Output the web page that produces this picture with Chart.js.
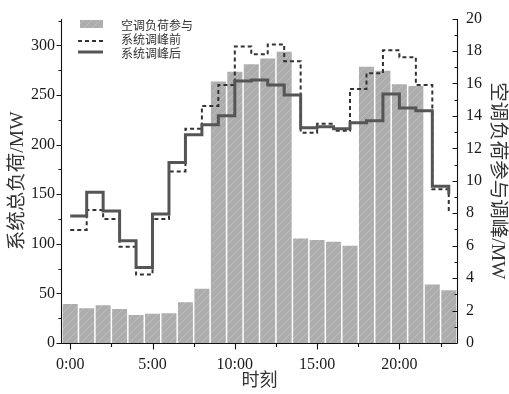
<!DOCTYPE html>
<html>
<head>
<meta charset="utf-8">
<script src="https://cdn.jsdelivr.net/npm/chart.js@4.4.0/dist/chart.umd.min.js"></script>
<style>
  html, body { margin: 0; padding: 0; background: #fff; }
  #wrap { width: 509px; height: 394px; position: relative; }
</style>
</head>
<body>
<div id="wrap"><canvas id="c" width="509" height="394"></canvas></div>
<script>
// Hour of day (each step of the load curves covers one hour)
const hours = [0, 1, 2, 3, 4, 5, 6, 7, 8, 9, 10, 11, 12, 13, 14, 15, 16, 17, 18, 19, 20, 21, 22, 23];

// Air-conditioning load taking part in peak shaving, MW (right axis)
const acLoad = [2.41, 2.14, 2.33, 2.10, 1.73, 1.80, 1.84, 2.51, 3.35, 16.12, 16.73, 17.18,
                17.54, 17.95, 6.45, 6.35, 6.25, 6.00, 17.03, 16.79, 15.95, 15.85, 3.60, 3.25];

// Total system load before peak shaving, MW (left axis)
const loadBefore = [114, 134, 125, 97, 69, 125, 173, 216, 239, 260, 299, 291,
                    301, 284, 212, 221, 214, 256, 272, 295, 288, 260, 155, 132];

// Total system load after peak shaving, MW (left axis)
const loadAfter = [128, 152, 133, 103, 76, 130, 182, 210, 220, 229, 264, 265,
                   260, 250, 217, 218, 216, 222, 224, 251, 237, 234, 158, 150];

// Axis ticks
const xTickValues = [0, 5, 10, 15, 20];
const xTickLabels = ['0:00', '5:00', '10:00', '15:00', '20:00'];
const xMinorTicks = [2.5, 7.5, 12.5, 17.5, 22.5];
const leftTicks = [0, 50, 100, 150, 200, 250, 300];
const leftMinorTicks = [25, 75, 125, 175, 225, 275, 325];
const rightTicks = [0, 2, 4, 6, 8, 10, 12, 14, 16, 18, 20];
const rightMinorTicks = [1, 3, 5, 7, 9, 11, 13, 15, 17, 19];

const serif = "'Liberation Serif', 'Times New Roman', serif";
const cjk = "'Liberation Serif', 'Noto Sans CJK SC', sans-serif";

// Grey fill with light diagonal hatching for the bars
function makeHatch(ctx) {
  const c = document.createElement('canvas');
  c.width = 8; c.height = 8;
  const g = c.getContext('2d');
  g.fillStyle = '#adadad';
  g.fillRect(0, 0, 8, 8);
  g.strokeStyle = '#bdbdbd';
  g.lineWidth = 1;
  g.beginPath();
  g.moveTo(0, 8); g.lineTo(8, 0);
  g.moveTo(-1, 1); g.lineTo(1, -1);
  g.moveTo(7, 9); g.lineTo(9, 7);
  g.stroke();
  return ctx.createPattern(c, 'repeat');
}

const canvas = document.getElementById('c');
const ctx = canvas.getContext('2d');
const hatch = makeHatch(ctx);

const pts = (vals) => hours.map((h, i) => ({ x: h, y: vals[i] }));

// Axis lines and tick marks (major / minor), placed through the chart scales
const axisFrame = {
  id: 'axisFrame',
  afterDraw(chart) {
    const { ctx, chartArea: a, scales } = chart;
    const x = scales.x, yL = scales.yL, yR = scales.yR;
    ctx.save();
    ctx.strokeStyle = '#111';
    ctx.lineWidth = 1.1;
    ctx.beginPath();
    const L = Math.round(a.left) - 0.5, R = Math.round(a.right) + 0.5, B = Math.round(a.bottom) + 0.5, T = Math.round(a.top);
    ctx.moveTo(L, T); ctx.lineTo(L, B);
    ctx.moveTo(R, T); ctx.lineTo(R, B);
    ctx.moveTo(L, B); ctx.lineTo(R, B);
    const hTick = (v, len) => { const px = Math.round(x.getPixelForValue(v)) + 0.5; ctx.moveTo(px, B); ctx.lineTo(px, B + len); };
    const lTick = (v, len) => { const py = Math.round(yL.getPixelForValue(v)) + 0.5; ctx.moveTo(L, py); ctx.lineTo(L - len, py); };
    const rTick = (v, len) => { const py = Math.round(yR.getPixelForValue(v)) + 0.5; ctx.moveTo(R, py); ctx.lineTo(R - len, py); };
    xTickValues.forEach(v => hTick(v, 6));
    xMinorTicks.forEach(v => hTick(v, 3.5));
    leftTicks.forEach(v => lTick(v, 5));
    leftMinorTicks.forEach(v => lTick(v, 3));
    rightTicks.forEach(v => rTick(v, 5));
    rightMinorTicks.forEach(v => rTick(v, 3));
    ctx.stroke();
    ctx.restore();
  }
};

// Legend box in the upper-left corner of the plot, styled from the datasets
const cornerLegend = {
  id: 'cornerLegend',
  afterDraw(chart) {
    const { ctx } = chart;
    const ds = chart.data.datasets;
    const bar = ds.find(d => d.type === 'bar');
    const before = ds.find(d => d.label === '系统调峰前');
    const after = ds.find(d => d.label === '系统调峰后');
    ctx.save();
    ctx.font = "12px 'Noto Sans CJK SC', sans-serif";
    ctx.textBaseline = 'middle';
    ctx.textAlign = 'left';
    // bar swatch
    ctx.fillStyle = bar.backgroundColor;
    ctx.fillRect(80, 20, 23, 8);
    ctx.fillStyle = '#333';
    ctx.fillText(bar.label, 121, 25);
    // dashed line
    ctx.strokeStyle = before.borderColor;
    ctx.lineWidth = before.borderWidth;
    ctx.setLineDash(before.borderDash);
    ctx.beginPath(); ctx.moveTo(78, 41); ctx.lineTo(103, 41); ctx.stroke();
    ctx.fillText(before.label, 121, 39.5);
    // solid line
    ctx.setLineDash([]);
    ctx.strokeStyle = after.borderColor;
    ctx.lineWidth = after.borderWidth;
    ctx.beginPath(); ctx.moveTo(78, 52); ctx.lineTo(103, 52); ctx.stroke();
    ctx.fillText(after.label, 121, 53);
    ctx.restore();
  }
};

new Chart(ctx, {
  type: 'bar',
  data: {
    datasets: [
      {
        type: 'line',
        label: '系统调峰后',
        data: pts(loadAfter),
        yAxisID: 'yL',
        stepped: 'before',
        borderColor: '#555555',
        borderWidth: 3,
        pointRadius: 0,
        fill: false,
        order: 1
      },
      {
        type: 'line',
        label: '系统调峰前',
        data: pts(loadBefore),
        yAxisID: 'yL',
        stepped: 'before',
        borderColor: '#333333',
        borderWidth: 2,
        borderDash: [4, 3],
        pointRadius: 0,
        fill: false,
        order: 2
      },
      {
        type: 'bar',
        label: '空调负荷参与',
        data: pts(acLoad),
        yAxisID: 'yR',
        backgroundColor: hatch,
        borderWidth: 0,
        barPercentage: 0.91,
        categoryPercentage: 1,
        order: 3
      }
    ]
  },
  options: {
    responsive: false,
    animation: false,
    events: [],
    layout: { padding: { top: 17, left: 0, right: 0, bottom: 0 } },
    plugins: { legend: { display: false }, tooltip: { enabled: false } },
    scales: {
      x: {
        type: 'linear',
        min: -0.5,
        max: 23.5,
        offset: false,
        afterFit(s) { s.height = 51; },
        afterBuildTicks(s) { s.ticks = xTickValues.map(v => ({ value: v })); },
        grid: { display: false, drawTicks: false },
        border: { display: false },
        ticks: {
          autoSkip: false,
          maxRotation: 0,
          padding: 12,
          color: '#1a1a1a',
          font: { family: serif, size: 16 },
          callback: (v) => xTickLabels[xTickValues.indexOf(v)]
        },
        title: { display: true, text: '时刻', color: '#333', font: { family: cjk, size: 18 }, padding: { top: 0, bottom: 2 } }
      },
      yL: {
        position: 'left',
        min: 0,
        max: 327,
        afterFit(s) { s.width = 62; },
        afterBuildTicks(s) { s.ticks = leftTicks.map(v => ({ value: v })); },
        grid: { display: false, drawTicks: false },
        border: { display: false },
        ticks: { padding: 7, color: '#1a1a1a', font: { family: serif, size: 16 } },
        title: { display: true, text: '系统总负荷/MW', color: '#333', font: { family: cjk, size: 19.5 }, padding: { top: 5.8, bottom: 0 } }
      },
      yR: {
        position: 'right',
        min: 0,
        max: 20,
        afterFit(s) { s.width = 52; },
        afterBuildTicks(s) { s.ticks = rightTicks.map(v => ({ value: v })); },
        grid: { display: false, drawTicks: false },
        border: { display: false },
        ticks: { padding: 9, color: '#1a1a1a', font: { family: serif, size: 16 } },
        title: { display: true, text: '空调负荷参与调峰/MW', color: '#333', font: { family: cjk, size: 19.5 }, padding: { top: 0, bottom: 0 } }
      }
    }
  },
  plugins: [axisFrame, cornerLegend]
});
</script>
</body>
</html>
